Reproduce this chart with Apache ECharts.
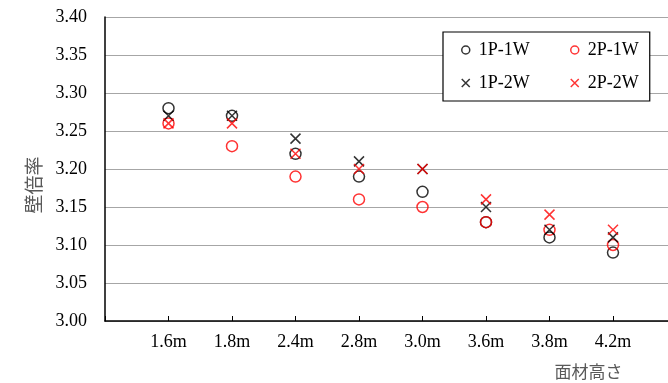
<!DOCTYPE html>
<html><head><meta charset="utf-8">
<script src="https://cdn.jsdelivr.net/npm/echarts@6/dist/echarts.min.js"></script>
<style>html,body{margin:0;padding:0;background:#fff}#c{width:668px;height:383px}</style>
</head><body><div id="c"></div>
<script>
var categories = ['1.6m','1.8m','2.4m','2.8m','3.0m','3.6m','3.8m','4.2m'];
var s1P1W = [3.28, 3.27, 3.22, 3.19, 3.17, 3.13, 3.11, 3.09];
var s2P1W = [3.26, 3.23, 3.19, 3.16, 3.15, 3.13, 3.12, 3.10];
var s1P2W = [3.27, 3.27, 3.24, 3.21, 3.20, 3.15, 3.12, 3.11];
var s2P2W = [3.26, 3.26, 3.22, 3.20, 3.20, 3.16, 3.14, 3.12];
var yTicks = ['3.00','3.05','3.10','3.15','3.20','3.25','3.30','3.35','3.40'];

var xData = [''].concat(categories).concat(['']);
function pad(a){ return [null].concat(a).concat([null]); }
var XPATH = 'path://M0,0L10,10M10,0L0,10';
var serif = 'Liberation Serif';
var RED = '#ff0000';
function circ(name, col, data){
  return {name:name, type:'scatter', data:pad(data), symbol:'circle', symbolSize:11,
    itemStyle:{color:'rgba(0,0,0,0)', borderColor:col, borderWidth:1.5}};
}
function cross(name, col, data){
  return {name:name, type:'scatter', data:pad(data), symbol:XPATH, symbolSize:10,
    itemStyle:{color:'rgba(0,0,0,0)', borderColor:col, borderWidth:1.5}};
}
function legItem(name, icon, col){
  return {name:name, icon:icon, itemStyle:{color:'rgba(0,0,0,0)', borderColor:col, borderWidth:1.5}};
}
var legText = {fontFamily:serif, fontSize:18, color:'#000', padding:[0,0,0,4]};
var chart = echarts.init(document.getElementById('c'), null, {renderer:'canvas'});
chart.setOption({
  animation:false,
  backgroundColor:'#fff',
  grid:{left:105, top:17, width:571.5, height:304, containLabel:false, outerBoundsMode:'none'},
  legend:[{
    orient:'vertical', left:443, top:32,
    backgroundColor:'#fff', borderColor:'#000', borderWidth:1.2, borderRadius:0,
    padding:[9,120,9,18], itemGap:15, itemWidth:8, itemHeight:8,
    textStyle:legText,
    data:[legItem('1P-1W','circle','#000'), legItem('1P-2W',XPATH,'#000')]
  },{
    orient:'vertical', left:570, top:32,
    padding:[9,0,9,0], itemGap:15, itemWidth:8, itemHeight:8,
    textStyle:legText,
    data:[legItem('2P-1W','circle',RED), legItem('2P-2W',XPATH,RED)]
  }],
  xAxis:{
    type:'category', data:xData, boundaryGap:false,
    name:'面材高さ', nameLocation:'end', nameGap:0,
    nameTextStyle:{fontFamily:'Noto Sans CJK JP', fontSize:17, color:'#595959', align:'right', verticalAlign:'top', padding:[42,54,0,0]},
    axisLine:{lineStyle:{color:'#000', width:1.5}},
    axisTick:{inside:true, length:5, lineStyle:{color:'#000'}},
    axisLabel:{fontFamily:serif, fontSize:18, color:'#000', margin:12},
    splitLine:{show:false}
  },
  yAxis:{
    type:'value', min:3.0, max:3.4, interval:0.05,
    name:'壁倍率', nameLocation:'middle', nameGap:62, nameRotate:90,
    nameTextStyle:{fontFamily:'Noto Sans CJK JP', fontSize:19, color:'#595959', padding:[0,0,0,-32]},
    axisLine:{show:true, lineStyle:{color:'#000', width:1.5}},
    axisTick:{show:false},
    axisLabel:{fontFamily:serif, fontSize:18, color:'#000', margin:18,
      formatter:function(v){ var i=Math.round((v-3.0)/0.05); return yTicks[i]; }},
    splitLine:{show:true, lineStyle:{color:'#a6a6a6', width:1}}
  },
  series:[
    circ('1P-1W','#000',s1P1W),
    circ('2P-1W',RED,s2P1W),
    cross('1P-2W','#000',s1P2W),
    cross('2P-2W',RED,s2P2W)
  ]
});
</script></body></html>
